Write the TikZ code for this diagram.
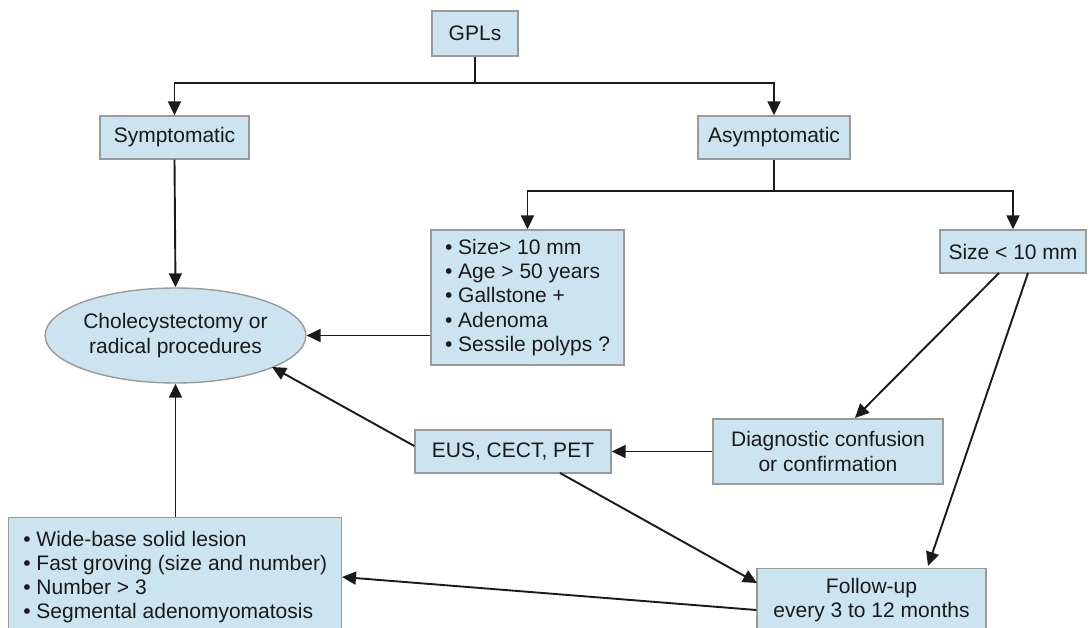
\documentclass[tikz,border=0pt]{standalone}
\usepackage{fontspec}
\setmainfont{Liberation Sans}
\usetikzlibrary{arrows.meta,shapes.geometric}
\definecolor{boxfill}{HTML}{CCE4F0}
\definecolor{boxline}{HTML}{9A9A9A}
\definecolor{linecol}{HTML}{1A1A1A}
\begin{document}
\begin{tikzpicture}[x=1pt,y=-1pt,
  box/.style={draw=boxline,fill=boxfill,line width=1.4pt,inner sep=0pt,
    font=\fontsize{21}{24.2}\selectfont,text=linecol},
  ell/.style={box,ellipse},
  conn/.style={draw=linecol,line width=1.9pt},
  arr/.style={conn,-{Triangle[length=14pt,width=13pt]}}]
\useasboundingbox (0,0) rectangle (1089,628);
\node[box,minimum width=86pt,minimum height=45pt] (gpl) at (475,33.5) {GPLs};
\node[box,minimum width=149pt,minimum height=43pt] (sym) at (174.5,137.5) {Symptomatic};
\node[box,minimum width=152pt,minimum height=43pt] (asym) at (774,137.5) {Asymptomatic};
\node[box,minimum width=193pt,minimum height=135pt,align=left] (big) at (527.5,297.5)
  {\textbullet\ Size> 10 mm\\ \textbullet\ Age > 50 years\\ \textbullet\ Gallstone +\\ \textbullet\ Adenoma\\ \textbullet\ Sessile polyps ?};
\node[box,minimum width=146pt,minimum height=43pt] (small) at (1013,251.5) {Size < 10 mm};
\node[ell,minimum width=225pt,minimum height=95pt,align=center] (chol) at (175.5,335.5)
  {Cholecystectomy or\\radical procedures};
\node[box,minimum width=196pt,minimum height=43pt] (eus) at (513,451.5) {EUS, CECT, PET};
\node[box,minimum width=230pt,minimum height=65pt,align=center] (diag) at (828,451.5)
  {Diagnostic confusion\\or confirmation};
\node[box,minimum width=229pt,minimum height=63pt,anchor=north,align=center] (fol) at (871.5,568)
  {Follow-up\\every 3 to 12 months};
\node[box,minimum width=333pt,minimum height=119pt,anchor=north west,align=left] (wide) at (8,517)
  {\textbullet\ Wide-base solid lesion\\ \textbullet\ Fast groving (size and number)\\ \textbullet\ Number > 3\\ \textbullet\ Segmental adenomyomatosis};
% connectors
\coordinate (j1) at (475,83);
\draw[conn] (gpl.south) -- (j1);
\draw[arr] (j1) -| (sym.north);
\draw[arr] (j1) -| (asym.north);
\coordinate (j2) at (774,191);
\draw[conn] (asym.south) -- (j2);
\draw[arr] (j2) -| (big.north);
\draw[arr] (j2) -| (small.north);
\draw[arr] (sym.south) -- (chol.north);
\draw[arr] (big.west |- chol.east) -- (chol.east);
\draw[arr] (wide.north -| chol.south) -- (chol.south);
\draw[arr] (eus.west |- 0,446) -- (272,367);
\draw[arr] (diag.west) -- (eus.east);
\draw[arr] (999,273) -- (855,418);
\draw[arr] (1028,273) -- (928,566);
\draw[arr] (560,473) -- (757,583);
\draw[arr] (fol.west |- 0,610) -- (342,577);
\end{tikzpicture}
\end{document}
